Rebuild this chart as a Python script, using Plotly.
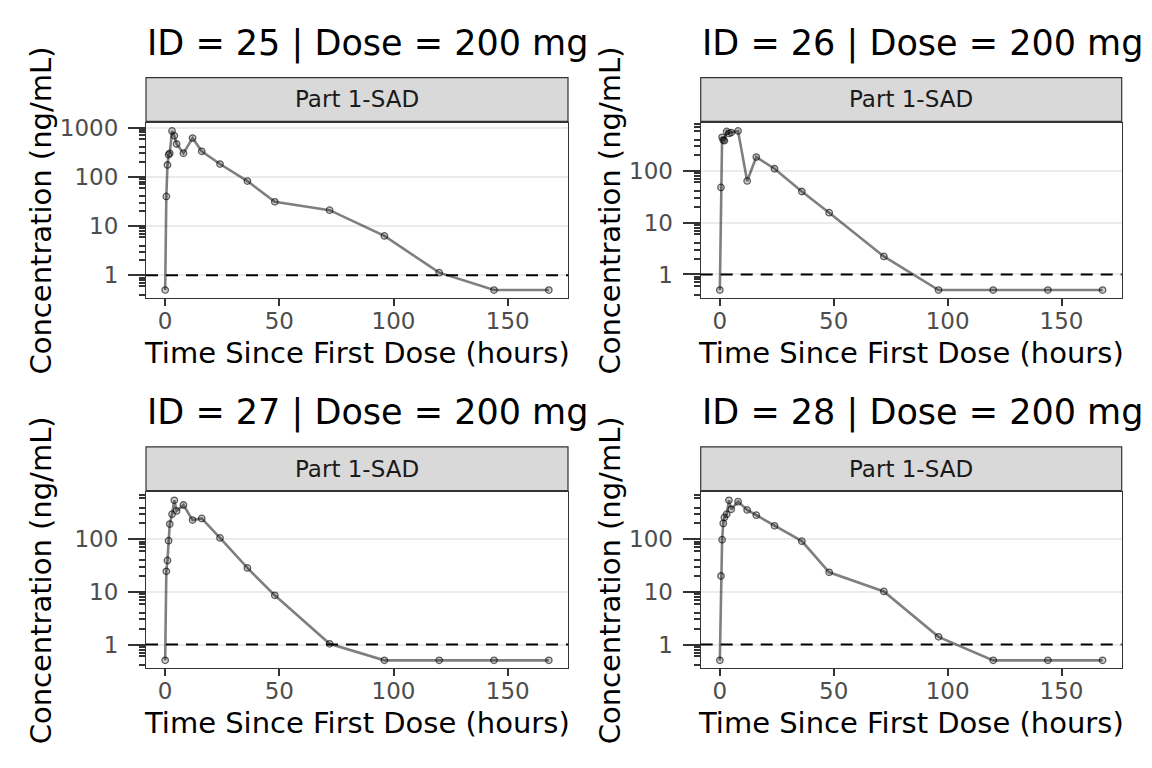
import numpy as np
import plotly.graph_objects as go

W, H = 1152, 768

# ---- data ----
subject_ids = [25, 26, 27, 28]
dose_mg = [200, 200, 200, 200]
study_part = ["Part 1-SAD", "Part 1-SAD", "Part 1-SAD", "Part 1-SAD"]

time_h = [0, 0.5, 1, 1.5, 2, 3, 4, 5, 8, 12, 16, 24, 36, 48, 72, 96, 120, 144, 168]

conc_25 = [0.5, 40, 174, 280, 300, 855, 680, 465, 302, 612, 330, 182, 82, 31, 21, 6.3, 1.13, 0.5, 0.5]
conc_26 = [0.5, 48, 444, 395, 383, 578, 528, 550, 590, 64, 185, 110, 40, 15.6, 2.23, 0.5, 0.5, 0.5, 0.5]
conc_27 = [0.5, 24.6, 39.6, 94, 194, 299, 548, 345, 447, 231, 248, 106, 28.5, 8.6, 1.03, 0.5, 0.5, 0.5, 0.5]
conc_28 = [0.5, 20, 98, 200, 259, 299, 548, 371, 518, 360, 286, 180, 92, 23.5, 10.2, 1.4, 0.5, 0.5, 0.5]

lloq = 1
x_ticks = [0, 50, 100, 150]
y_ticks = [1, 10, 100, 1000]
y_ticks_mid = [0.5, 5, 50, 500, 5000]
y_ticks_minor = [m * 10.0 ** k for k in range(-1, 4) for m in (2, 3, 4, 6, 7, 8, 9)]

x_title = "Time Since First Dose (hours)"
y_title = "Concentration (ng/mL)"

concs = [conc_25, conc_26, conc_27, conc_28]

# ---- layout in screen pixels (ggplot/patchwork look) ----
FONT = "DejaVu Sans"
col_x = [(146, 568), (700.7, 1121.7)]
row_y = [(123, 298), (492.3, 668.3)]
ytitle_x = [41, 610]
strip_h = 43.7
strip_gap = 1.7

# the page shot comes out shifted down ~8px and squeezed a little vertically
SHOT_DY, SHOT_SY = 8.0, 0.9895


def px(x):
    return x / W


def py(y):
    return 1 - ((y - SHOT_DY) / SHOT_SY) / H


def log_range(vals, pad=0.05):
    lo, hi = np.log10(min(vals)), np.log10(max(vals))
    d = (hi - lo) * pad
    return [lo - d, hi + d]


t_span = max(time_h) - min(time_h)
xr = [min(time_h) - 0.05 * t_span, max(time_h) + 0.05 * t_span]

fig = go.Figure()
layout = {}
shapes = []
annotations = []

for i, (sid, dose, part, conc) in enumerate(zip(subject_ids, dose_mg, study_part, concs)):
    r, c = divmod(i, 2)
    n = i + 1
    xa = "x" if n == 1 else f"x{n}"
    ya = "y" if n == 1 else f"y{n}"
    x0, x1 = col_x[c]
    y0, y1 = row_y[r]
    yr = log_range(conc)

    fig.add_trace(go.Scatter(
        x=time_h, y=conc, xaxis=xa, yaxis=ya,
        mode="lines+markers",
        line=dict(color="rgba(0,0,0,0.5)", width=2.6),
        marker=dict(size=6.5, color="rgba(0,0,0,0.2)",
                    line=dict(color="rgba(0,0,0,0.6)", width=1.3)),
        showlegend=False, hoverinfo="x+y",
    ))

    layout[f"xaxis{n if n > 1 else ''}"] = dict(
        domain=[px(x0), px(x1)], anchor=ya, range=xr,
        tickvals=x_ticks, ticks="outside", ticklen=7, tickwidth=2, tickcolor="#333333",
        ticklabelstandoff=-5,
        tickfont=dict(family=FONT, size=23, color="#4D4D4D"),
        showgrid=False, zeroline=False,
        showline=True, mirror=True, linecolor="#333333", linewidth=1.2,
    )
    layout[f"yaxis{n if n > 1 else ''}"] = dict(
        domain=[py(y1), py(y0)], anchor=xa, type="log", range=yr,
        tickvals=y_ticks, ticktext=[str(v) for v in y_ticks],
        ticks="outside", ticklen=17, tickwidth=2, tickcolor="#333333",
        ticklabelstandoff=5,
        tickfont=dict(family=FONT, size=23, color="#4D4D4D"),
        showgrid=True, gridcolor="#EBEBEB", gridwidth=1.5, zeroline=False,
        showline=True, mirror=True, linecolor="#333333", linewidth=1.2,
        minor=dict(tickvals=y_ticks_minor, ticks="outside", ticklen=6,
                   tickwidth=2, tickcolor="#333333", showgrid=False),
    )
    # second axis carrying the longer log ticks at the 5s
    layout[f"yaxis{n + 4}"] = dict(
        overlaying=ya, anchor=xa, side="left", type="log", range=yr,
        tickvals=y_ticks_mid, showticklabels=False,
        ticks="outside", ticklen=11, tickwidth=2, tickcolor="#333333",
        showgrid=False, zeroline=False, showline=False,
    )

    # LLOQ reference line
    shapes.append(dict(
        type="line", xref=f"{xa} domain", yref=ya, x0=0, x1=1, y0=lloq, y1=lloq,
        line=dict(color="black", width=2.2, dash="12px,8px"), layer="above",
    ))
    # strip
    s_bot = y0 - strip_gap
    s_top = s_bot - strip_h
    shapes.append(dict(
        type="rect", xref="paper", yref="paper",
        x0=px(x0), x1=px(x1), y0=py(s_bot), y1=py(s_top),
        fillcolor="#D9D9D9", line=dict(color="#333333", width=1.2), layer="below",
    ))
    annotations.append(dict(
        text=part, xref="paper", yref="paper", x=px((x0 + x1) / 2), y=py((s_top + s_bot) / 2),
        xanchor="center", yanchor="middle", showarrow=False,
        font=dict(family=FONT, size=23, color="#1A1A1A"),
    ))
    # plot title
    annotations.append(dict(
        text=f"ID = {sid} | Dose = {dose} mg", xref="paper", yref="paper",
        x=px(x0 - 1), y=py(y0 - 80), xanchor="left", yanchor="middle", showarrow=False,
        font=dict(family=FONT, size=35, color="black"),
    ))
    # axis titles
    annotations.append(dict(
        text=x_title, xref="paper", yref="paper", x=px((x0 + x1) / 2), y=py(y1 + 55),
        xanchor="center", yanchor="middle", showarrow=False,
        font=dict(family=FONT, size=29, color="black"),
    ))
    annotations.append(dict(
        text=y_title, xref="paper", yref="paper", x=px(ytitle_x[c]), y=py((y0 + y1) / 2),
        xanchor="center", yanchor="middle", showarrow=False, textangle=-90,
        font=dict(family=FONT, size=29, color="black"),
    ))

fig.update_layout(
    width=W, height=H,
    margin=dict(l=0, r=0, t=0, b=0),
    paper_bgcolor="white", plot_bgcolor="white",
    font=dict(family=FONT, color="black"),
    shapes=shapes, annotations=annotations,
    showlegend=False,
    **layout,
)

# page body margin off so the figure sits at the window origin
fig.write_html("out.html", config={"displayModeBar": False},
               post_script="document.body.style.margin = '0px';")
